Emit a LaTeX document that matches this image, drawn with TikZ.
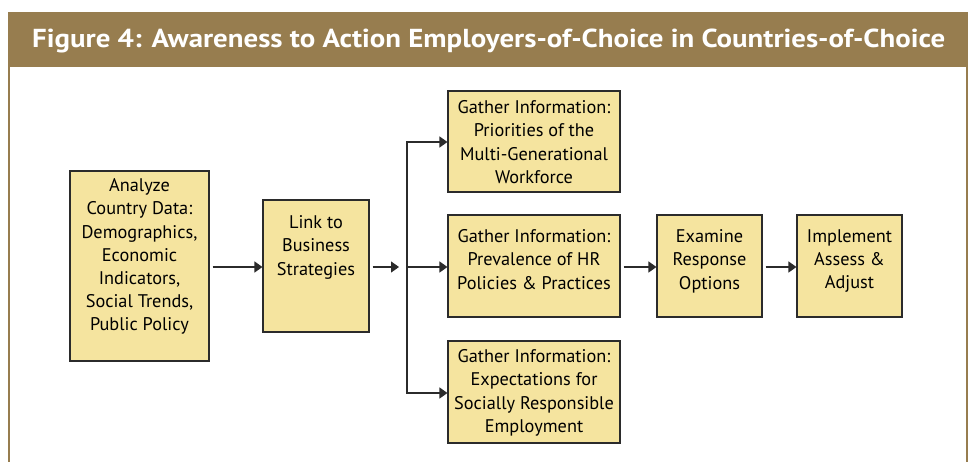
\documentclass[tikz,border=0pt]{standalone}
\usepackage{fontspec}
\setmainfont{PT Sans}
\usetikzlibrary{arrows.meta}
\definecolor{gold}{HTML}{977D4F}
\definecolor{boxfill}{HTML}{F5E49F}
\definecolor{boxline}{HTML}{2B2B2B}
\tikzset{
  box/.style={draw=boxline, line width=1.1pt, fill=boxfill, inner sep=0pt},
  txt/.style={anchor=north, align=center, inner sep=0pt, font=\fontsize{18.3}{23.2}\selectfont, text=black},
  arr/.style={line width=1.2pt, draw=boxline, -{Triangle[length=8pt,width=11pt]}},
  ln/.style={line width=1.2pt, draw=boxline}
}
\begin{document}
\begin{tikzpicture}[x=1pt,y=-1pt]
\useasboundingbox (0,0) rectangle (971,461);
\fill[white] (0,0) rectangle (971,461);
% frame
\fill[gold] (8,13) rectangle (968,67);
\draw[gold, line width=2pt] (9,470) -- (9,13) -- (967,13) -- (967,470);
\node[anchor=west, text=white, inner sep=0pt] (title) at (32,41) {\scalebox{1.11}[1]{\fontsize{26}{28}\selectfont\bfseries Figure 4: Awareness to Action Employers-of-Choice in Countries-of-Choice}};
% boxes
\node[box, minimum width=139pt, minimum height=190pt] (an) at (139.5,266) {};
\node[txt] (antxt) at ([yshift=-8pt]an.north) {Analyze\\Country Data:\\Demographics,\\Economic\\Indicators,\\Social Trends,\\Public Policy};
\node[box, minimum width=106pt, minimum height=132pt] (lk) at (316,266) {};
\node[txt] (lktxt) at ([yshift=-16pt]lk.north) {Link to\\Business\\Strategies};
\node[box, minimum width=172pt, minimum height=101pt] (g1) at (534,141.5) {};
\node[txt] (g1txt) at ([yshift=-10pt]g1.north) {Gather Information:\\Priorities of the\\Multi-Generational\\Workforce};
\node[box, minimum width=172pt, minimum height=102pt] (g2) at (534,266) {};
\node[txt] (g2txt) at ([yshift=-15pt]g2.north) {Gather Information:\\Prevalence of HR\\Policies \& Practices};
\node[box, minimum width=172pt, minimum height=102pt] (g3) at (534,392) {};
\node[txt] (g3txt) at ([yshift=-9pt]g3.north) {Gather Information:\\Expectations for\\Socially Responsible\\Employment};
\node[box, minimum width=105pt, minimum height=102pt] (ex) at (709.5,266) {};
\node[txt] (extxt) at ([yshift=-15pt]ex.north) {Examine\\Response\\Options};
\node[box, minimum width=105pt, minimum height=102pt] (im) at (849.5,266) {};
\node[txt] (imtxt) at ([yshift=-15pt]im.north) {Implement\\Assess \&\\Adjust};
% connectors
\coordinate (tipa) at (399,267);
\coordinate (jt) at (407,142);
\coordinate (jm) at (407,267);
\coordinate (jb) at (407,393);
\draw[arr] ([xshift=3pt]an.east |- 0,267) -- (lk.west |- 0,267);
\draw[arr] ([xshift=3pt]lk.east |- 0,267) -- (tipa);
\draw[ln] (jt) -- (jb);
\draw[arr] ([xshift=-0.6pt]jt) -- (g1.west |- jt);
\draw[arr] (jm) -- (g2.west |- jm);
\draw[arr] ([xshift=-0.6pt]jb) -- (g3.west |- jb);
\draw[arr] ([xshift=3pt]g2.east |- 0,267) -- (ex.west |- 0,267);
\draw[arr] ([xshift=3pt]ex.east |- 0,267) -- (im.west |- 0,267);
\end{tikzpicture}
\end{document}
